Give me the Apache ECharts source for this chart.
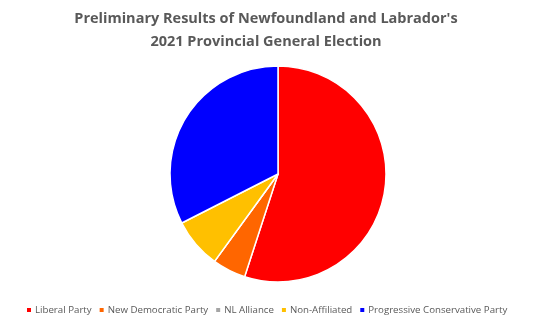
<!DOCTYPE html>
<html>
<head>
<meta charset="utf-8">
<script src="https://cdn.jsdelivr.net/npm/echarts@6/dist/echarts.min.js"></script>
<style>
  html, body { margin: 0; padding: 0; background: #fff; }
  #chart { width: 557px; height: 326px; }
</style>
</head>
<body>
<div id="chart"></div>
<script>
// seats per party
var parties = ['Liberal Party', 'New Democratic Party', 'NL Alliance', 'Non-Affiliated', 'Progressive Conservative Party'];
var seats = [22, 2, 0, 3, 13];
var colors = ['#FF0000', '#FF6600', '#A5A5A5', '#FFC000', '#0000FF'];

var myChart = echarts.init(document.getElementById('chart'));
myChart.setOption({
  animation: false,
  color: colors,
  title: {
    text: "Preliminary Results of Newfoundland and Labrador's\n2021 Provincial General Election",
    left: 261,
    textAlign: 'center',
    top: 2,
    textStyle: {
      fontFamily: 'Open Sans',
      fontWeight: 'bold',
      fontSize: 14.5,
      lineHeight: 23,
      color: '#595959'
    }
  },
  legend: {
    bottom: 6,
    left: 20,
    itemWidth: 6,
    itemHeight: 6,
    itemGap: 6,
    icon: 'rect',
    textStyle: { fontFamily: 'Open Sans', fontSize: 9.7, color: '#595959', padding: [0, 0, 0, -2] },
    data: parties
  },
  series: [{
    type: 'pie',
    center: [278, 174],
    radius: 108,
    startAngle: 90,
    clockwise: true,
    label: { show: false },
    labelLine: { show: false },
    itemStyle: { borderColor: '#fff', borderWidth: 1.5 },
    data: parties.map(function (p, i) { return { name: p, value: seats[i] }; })
  }]
});
</script>
</body>
</html>
